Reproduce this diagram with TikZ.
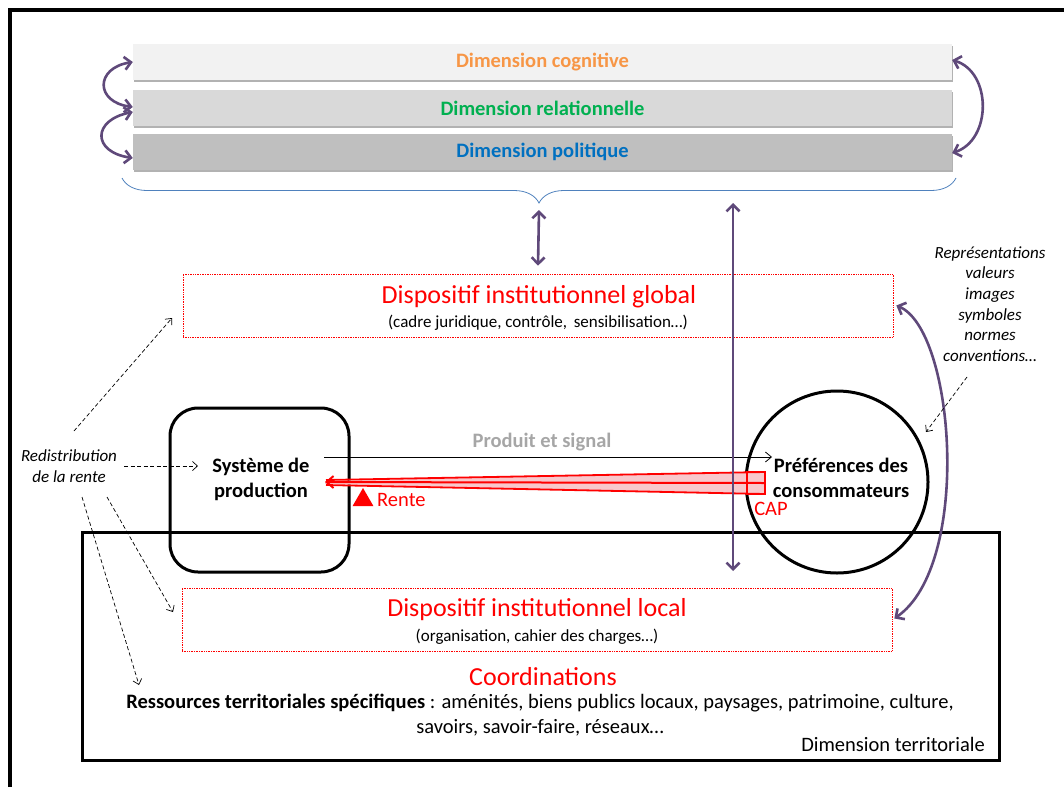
\documentclass[tikz,border=0pt]{standalone}
\usepackage{fontspec}
\setmainfont{Carlito}
\usetikzlibrary{arrows.meta,decorations.pathreplacing,shadows,calc,shapes.geometric}
\definecolor{purp}{HTML}{5F497A}
\definecolor{cogc}{HTML}{F79646}
\definecolor{relc}{HTML}{00B050}
\definecolor{polc}{HTML}{0070C0}
\definecolor{bracec}{HTML}{4F81BD}
\definecolor{graytxt}{HTML}{A6A6A6}
\definecolor{pinkfill}{HTML}{F8C8CC}
\newcommand\bodyfs{\fontsize{20.5}{24.5}\selectfont}
\newcommand\titlefs{\fontsize{26}{30}\selectfont}
\newcommand\subfs{\fontsize{17}{20}\selectfont}
\newcommand\itfs{\fontsize{17}{20.7}\selectfont}
\begin{document}
\begin{tikzpicture}[x=1pt,y=-1pt,
  dimbar/.style={minimum width=819pt, minimum height=36pt, inner sep=0pt, font=\bodyfs\bfseries,
    drop shadow={shadow xshift=1pt, shadow yshift=-2pt, fill=black, opacity=0.3}},
  instbox/.style={draw=red, densely dotted, line width=0.7pt, minimum width=710pt, minimum height=63pt, inner sep=0pt},
  purparrow/.style={draw=purp, line width=2.6pt, {Straight Barb[length=6.5pt,width=13pt]}-{Straight Barb[length=6.5pt,width=13pt]}},
  dasharrow/.style={dash pattern=on 4pt off 2.5pt, line width=0.7pt, -{Straight Barb[length=5pt,width=9pt]}},
  txt/.style={inner sep=0pt, align=center}
]
\useasboundingbox (0,0) rectangle (1064,787);
% outer frame
\draw[line width=3.2pt] (10,787) -- (10,10) -- (1064,10);

% dimension bars
\node[dimbar, fill={rgb,255:red,242;green,242;blue,242}] (cog) at (542.5,62) {\textcolor{cogc}{Dimension cognitive}};
\node[dimbar, fill={rgb,255:red,217;green,217;blue,217}] (rel) at (542.5,108) {\textcolor{relc}{Dimension relationnelle}};
\node[dimbar, fill={rgb,255:red,191;green,191;blue,191}] (pol) at (542.5,152) {\textcolor{polc}{Dimension politique}};

% left and right curved arrows
\draw[purparrow] (cog.west) .. controls (95,68) and (95,102) .. ($(rel.west)+(0,-1)$);
\draw[purparrow] ($(rel.west)+(0,4)$) .. controls (92,120) and (92,152) .. ($(pol.west)+(0,6)$);
\draw[purparrow] ($(cog.east)+(0,-2)$) .. controls (992,72) and (992,140) .. ($(pol.east)+(0,1)$);

% brace
\draw[bracec, line width=0.8pt, decorate, decoration={brace, mirror, amplitude=25pt}] (122,178) -- (956,178);
\coordinate (bracetip) at (539,203);

% global institutional box
\node[instbox] (glob) at (538,305.5) {};
\node[txt, font=\titlefs, text=red] (globt) at (539,297) {Dispositif institutionnel global};
\node[txt, font=\subfs] (globs) at (538,323) {(cadre juridique, contrôle,\, sensibilisation…)};

\draw[purparrow] ($(bracetip)+(0,7)$) -- ($(glob.north)+(0,-8)$);

% long vertical arrow
\coordinate (vtop) at (733,203);
\coordinate (vbot) at (733,571);

% territorial box
\node[draw, line width=3pt, minimum width=917pt, minimum height=228pt, inner sep=0pt] (terr) at (540.5,646) {};
\node[txt, font=\bodyfs, anchor=east] (terrt) at (985,744) {Dimension territoriale};

% local institutional box
\node[instbox] (loc) at (537,619.5) {};
\node[txt, font=\titlefs, text=red] (loct) at (537,610) {Dispositif institutionnel local};
\node[txt, font=\subfs] (locs) at (537,637) {(organisation, cahier des charges…)};

\node[txt, font=\titlefs, text=red] (coord) at (543,677) {Coordinations};
\node[txt, font=\bodyfs] (res) at (540,715) {\textbf{Ressources territoriales spécifiques} : aménités, biens publics locaux, paysages, patrimoine, culture,\\savoirs, savoir-faire, réseaux…};

% production system
\node[draw, line width=3pt, rounded corners=28pt, minimum width=179pt, minimum height=164pt, inner sep=0pt] (sys) at (259.5,490) {};
\node[txt, font=\bodyfs\bfseries] (systxt) at (261,479.5) {Système de\\production};

% consumer preferences
\node[draw, circle, line width=3pt, minimum size=182pt, inner sep=0pt] (pref) at (837,482) {};
\node[txt, font=\bodyfs\bfseries] (preftxt) at (841,478) {Préférences des\\consommateurs};

% product and signal
\node[txt, font=\bodyfs\bfseries, text=graytxt] (ps) at (542,442) {Produit et signal};
\coordinate (psA) at (324,457);
\coordinate (psB) at (772,457);
\draw[line width=0.8pt, -{Straight Barb[length=6pt,width=10pt]}] (psA) -- (psB);

% rent wedge
\coordinate (capR) at (765,483);
\coordinate (renteL) at (325,482);
\fill[pinkfill] (747,472) -- (765,472) -- (765,494) -- (747,494) -- (325,484) -- (325,481) -- cycle;
\draw[red, line width=1.8pt] (765,472) -- (326,480);
\draw[red, line width=1.8pt] (765,494) -- (326,485);
\draw[red, line width=2.2pt] (747,472) rectangle (765,494);
\draw[red, line width=2pt, -{Straight Barb[length=7pt,width=12pt]}] (capR) -- (renteL);
\node[fill=red, isosceles triangle, shape border rotate=90, isosceles triangle apex angle=60, minimum height=18pt, minimum width=20pt, inner sep=0pt] (tri) at (363,500) {};
\node[txt, font=\bodyfs, text=red, anchor=west] (rente) at (377,500) {Rente};
\node[txt, font=\bodyfs, text=red] (cap) at (771,509) {CAP};

\draw[purparrow] (vtop) -- (vbot);

% right curved arrow between institutional boxes
\draw[purparrow] ($(glob.east)+(3,0)$) .. controls (955,330) and (972,565) .. ($(loc.east)+(2,-1)$);

% right text
\node[txt, font=\itfs\itshape] (repr) at (990,304) {Représentations\\valeurs\\images\\symboles\\normes\\conventions…};
\coordinate (reprA) at (967,377);
\coordinate (reprB) at (926,432);
\draw[dasharrow] (reprA) -- (reprB);

% redistribution
\node[txt, font=\itfs\itshape] (redis) at (69,466) {Redistribution\\de la rente};
\coordinate (r1a) at (74,431);
\coordinate (r1b) at (172,318);
\coordinate (r2a) at (124,466);
\coordinate (r2b) at (198,466);
\coordinate (r3a) at (107,497);
\coordinate (r3b) at (173,612);
\coordinate (r4a) at (82,497);
\coordinate (r4b) at (139,685);
\draw[dasharrow] (r1a) -- (r1b);
\draw[dasharrow] (r2a) -- (r2b);
\draw[dasharrow] (r3a) -- (r3b);
\draw[dasharrow] (r4a) -- (r4b);
\end{tikzpicture}
\end{document}
